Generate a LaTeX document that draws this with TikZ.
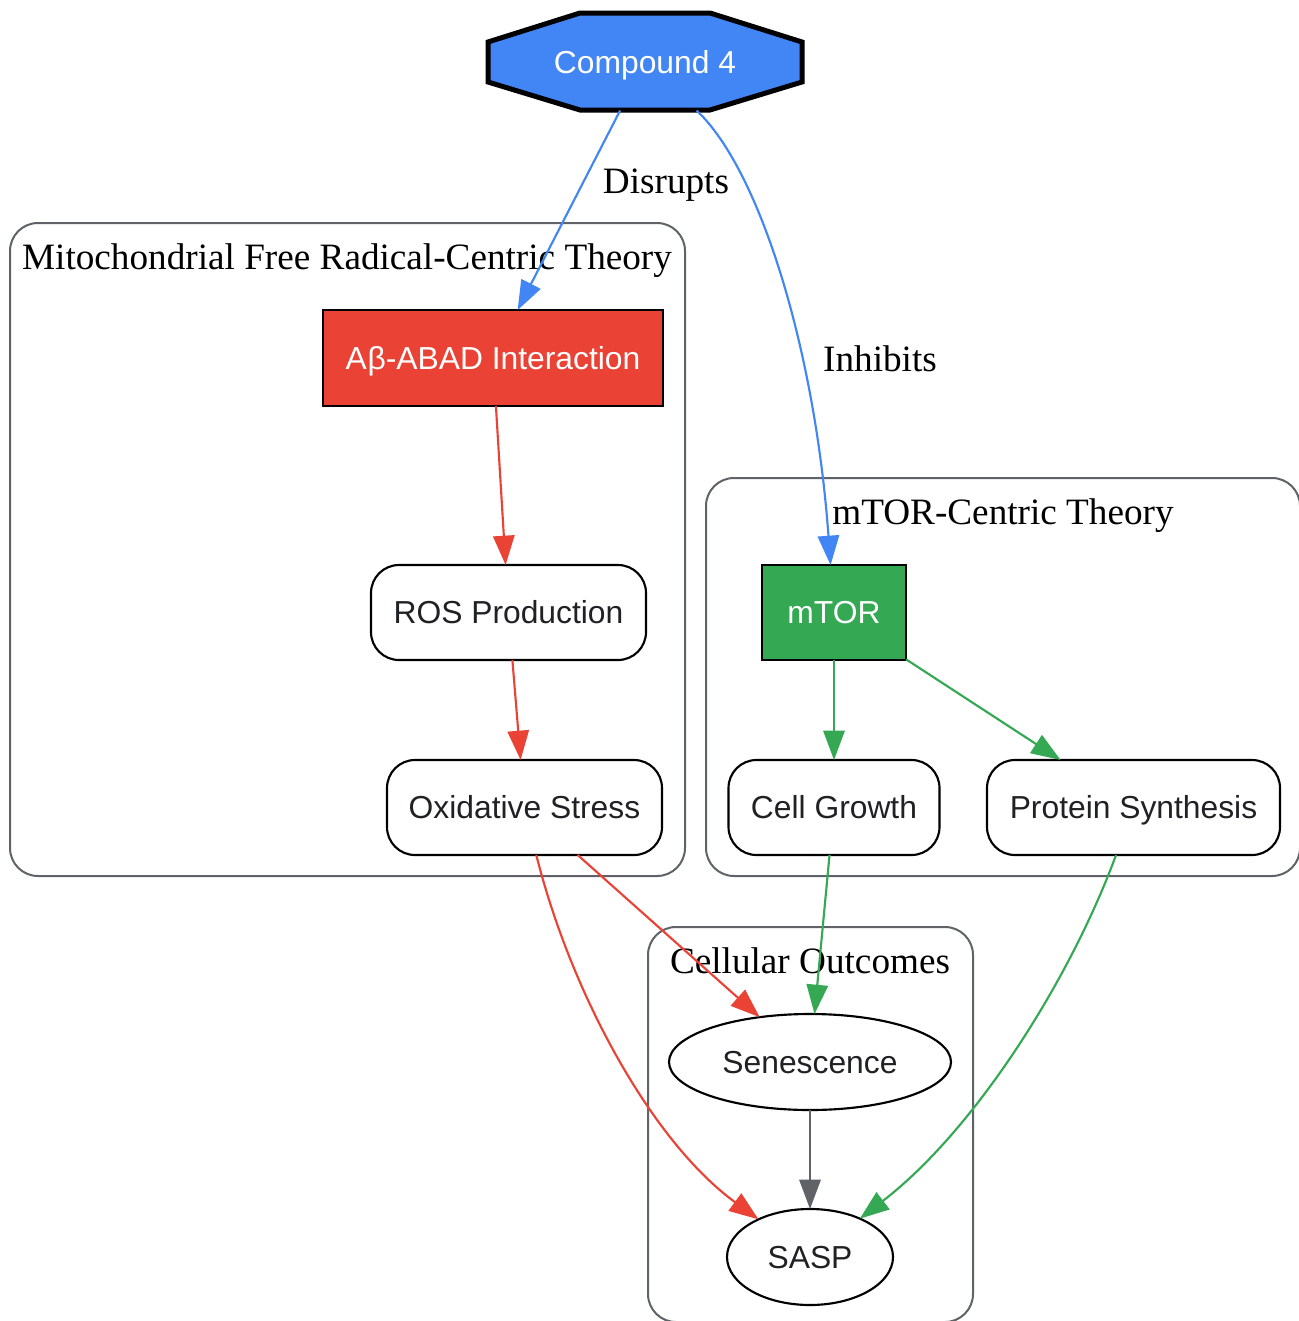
\documentclass[tikz,border=0pt]{standalone}
\usepackage{fontspec}
\setmainfont{Liberation Serif}
\newfontfamily\arialf{Liberation Sans}
\usetikzlibrary{shapes.geometric,arrows.meta}
\definecolor{gblue}{HTML}{4285F4}
\definecolor{gred}{HTML}{EA4335}
\definecolor{ggreen}{HTML}{34A853}
\definecolor{ggray}{HTML}{5F6368}
\definecolor{gdark}{HTML}{202124}
\begin{document}
\begin{tikzpicture}[x=0.75pt,y=-0.75pt,
  every node/.style={inner sep=0pt, outer sep=0pt},
  nodefont/.style={font=\arialf\fontsize{23.85}{28}\selectfont, text height=17.1pt, text depth=0pt},
  lblfont/.style={font=\fontsize{27.9}{32}\selectfont, anchor=base, text=black},
  box/.style={nodefont, draw=black, line width=1.6pt, rectangle, text=white},
  rbox/.style={nodefont, draw=black, line width=1.6pt, rectangle, rounded corners=21pt, fill=white, text=gdark},
  oval/.style={nodefont, draw=black, line width=1.6pt, ellipse, fill=white, text=gdark},
  cluster/.style={draw=ggray, line width=1.5pt, rounded corners=21pt},
  conn/.style={line width=1.6pt, -{Triangle[length=22pt,width=16pt]}},
]
\useasboundingbox (0,0) rectangle (1299,1321);
\fill[white] (0,0) rectangle (1299,1321);

% clusters
\draw[cluster] (10,223) rectangle (685,876);
\draw[cluster] (706,478) rectangle (1300,876);
\draw[cluster] (648,927) rectangle (973,1322);
\node[lblfont] (cl1) at (347,269) {Mitochondrial Free Radical-Centric Theory};
\node[lblfont] (cl2) at (1003,524) {mTOR-Centric Theory};
\node[lblfont] (cl3) at (810,973) {Cellular Outcomes};

% compound octagon
\filldraw[fill=gblue, draw=black, line width=3.75pt, line join=miter]
  (580,13) -- (710,13) -- (802,42) -- (802,82) -- (710,110) -- (580,110) -- (488,82) -- (488,42) -- cycle;
\node[nodefont, text=white, minimum width=235.5pt, minimum height=72.75pt] (c4) at (645,62) {Compound 4};

% nodes
\node[box, fill=gred, minimum width=255pt, minimum height=72pt] (ab) at (493,358) {A\kern0.5pt β-ABAD Interaction};
\node[rbox, minimum width=206.25pt, minimum height=71.25pt] (ros) at (508.5,612.5) {ROS Production};
\node[rbox, minimum width=206.25pt, minimum height=71.25pt] (ox) at (524.5,807.5) {Oxidative Stress};
\node[box, fill=ggreen, minimum width=108pt, minimum height=71.25pt] (mtor) at (834,612.5) {mTOR};
\node[rbox, minimum width=158.25pt, minimum height=71.25pt] (cg) at (834,807.5) {Cell Growth};
\node[rbox, minimum width=219.75pt, minimum height=71.25pt] (ps) at (1133.5,807.5) {Protein Synthesis};
\node[oval, minimum width=211.5pt, minimum height=72pt] (sen) at (810,1062) {Senescence};
\node[oval, minimum width=124.5pt, minimum height=72pt] (sasp) at (810,1257) {SASP};

% edges
\draw[conn, gblue] (c4) -- (ab);
\draw[conn, gblue] (c4) .. controls (760,170) and (815,350) .. (mtor);
\node[lblfont] (l1) at (666,193) {Disrupts};
\node[lblfont] (l2) at (880,371) {Inhibits};

\draw[conn, gred] (ab) -- (ros);
\draw[conn, gred] (ros) -- (ox);
\draw[conn, gred] (ox) -- (sen);
\draw[conn, gred] (ox) .. controls (570,990) and (650,1140) .. (sasp);

\draw[conn, ggreen] (mtor) -- (cg);
\draw[conn, ggreen] (mtor) -- (ps);
\draw[conn, ggreen] (cg) -- (sen);
\draw[conn, ggreen] (ps) .. controls (1070,980) and (975,1130) .. (sasp);

\draw[conn, ggray] (sen) -- (sasp);
\end{tikzpicture}
\end{document}
